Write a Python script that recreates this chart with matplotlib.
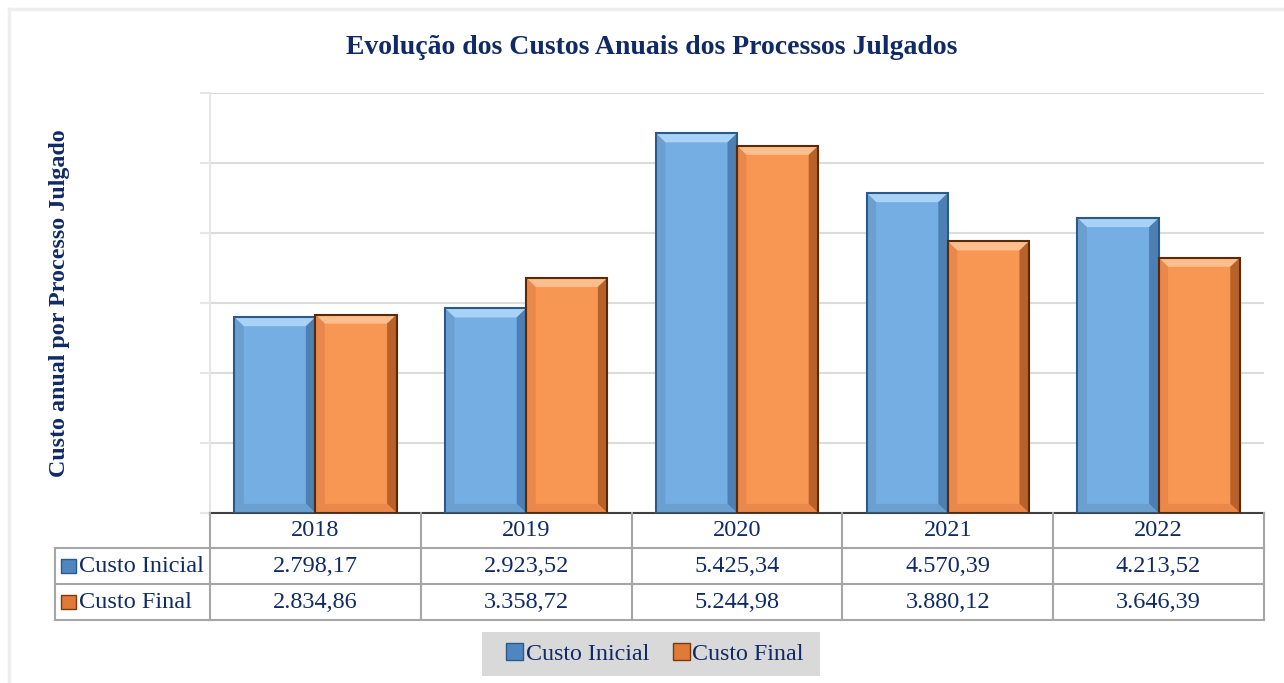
import numpy as np
import matplotlib.pyplot as plt
import matplotlib.transforms as mtrans
from matplotlib.patches import Rectangle, Polygon, Patch

anos = ['2018', '2019', '2020', '2021', '2022']
custo_inicial = [2798.17, 2923.52, 5425.34, 4570.39, 4213.52]
custo_final = [2834.86, 3358.72, 5244.98, 3880.12, 3646.39]
series = ['Custo Inicial', 'Custo Final']

navy = '#0F2A66'
plt.rcParams['font.family'] = ['Liberation Serif', 'DejaVu Serif']

W, H = 1284, 683
fig = plt.figure(figsize=(W / 100, H / 100), dpi=100)
px = lambda x, y: (x / W, 1 - y / H)  # pixel -> coordenada da figura

# moldura clara do gráfico
fig.add_artist(plt.Line2D([9 / W, 9 / W], [0, 1 - 9 / H], color='#EEEEEE', lw=2.5,
                          transform=fig.transFigure))
fig.add_artist(plt.Line2D([9 / W, 1], [1 - 9 / H, 1 - 9 / H], color='#EEEEEE', lw=2.5,
                          transform=fig.transFigure))

x0, x1, ytop, ybase = 210, 1264, 93, 513
ax = fig.add_axes([x0 / W, 1 - ybase / H, (x1 - x0) / W, (ybase - ytop) / H])
ax.set_xlim(-0.5, len(anos) - 0.5)
ax.set_ylim(0, 6000)
ax.set_yticks(np.arange(0, 6001, 1000))
ax.set_yticklabels([])
ax.set_xticks([])
ax.tick_params(axis='y', length=7, color='#E6E6E6', width=1.5)
ax.grid(axis='y', color='#DCDCDC', lw=1.5)
ax.set_axisbelow(True)
for s in ['top', 'right']:
    ax.spines[s].set_visible(False)
ax.spines['left'].set_color('#E6E6E6')
ax.spines['left'].set_linewidth(1.5)
ax.spines['bottom'].set_color('#404040')
ax.spines['bottom'].set_linewidth(1.5)

bw = 0.385
bx, by = 0.045, 130


def bar_3d(xc, h, face, light, mid, dark, edge):
    a, b = xc - bw / 2, xc + bw / 2
    ax.add_patch(Rectangle((a, 0), bw, h, facecolor=face, edgecolor='none', zorder=3))
    ax.add_patch(Polygon([(a, h), (b, h), (b - bx, h - by), (a + bx, h - by)],
                         closed=True, facecolor=light, edgecolor='none', zorder=4))
    ax.add_patch(Polygon([(b, h), (b, 0), (b - bx, by), (b - bx, h - by)],
                         closed=True, facecolor=dark, edgecolor='none', zorder=4))
    ax.add_patch(Polygon([(a, h), (a + bx, h - by), (a + bx, by), (a, 0)],
                         closed=True, facecolor=mid, edgecolor='none', zorder=4))
    ax.add_patch(Polygon([(a, 0), (a + bx, by), (b - bx, by), (b, 0)],
                         closed=True, facecolor=mid, edgecolor='none', zorder=4))
    ax.add_patch(Rectangle((a, 0), bw, h, facecolor='none', edgecolor=edge, lw=1.5, zorder=5))


pos = np.arange(len(anos))
for i in range(len(anos)):
    bar_3d(pos[i] - bw / 2, custo_inicial[i], '#74AEE3', '#A8D3F6', '#6A9FD0', '#4C7FB3', '#2B5A8A')
    bar_3d(pos[i] + bw / 2, custo_final[i], '#F89654', '#FBBE8C', '#E9884A', '#B8622A', '#5A2A08')

# tabela de dados (x em coordenadas de dados, y em pixels da figura)
fmt = lambda v: f'{v:,.2f}'.replace(',', 'X').replace('.', ',').replace('X', '.')
tr = mtrans.blended_transform_factory(ax.transData, fig.transFigure)
grid_c, grid_lw = '#A6A6A6', 1.5
rows_y = [513, 548, 584, 620]
for y in rows_y[1:]:
    fig.add_artist(plt.Line2D([-0.5, len(anos) - 0.5], [1 - y / H] * 2, color=grid_c,
                              lw=grid_lw, transform=tr))
    fig.add_artist(plt.Line2D([55 / W, 210 / W], [1 - y / H] * 2, color=grid_c,
                              lw=grid_lw, transform=fig.transFigure))
for i in range(len(anos) + 1):
    fig.add_artist(plt.Line2D([i - 0.5] * 2, [1 - 513 / H, 1 - 620 / H], color=grid_c,
                              lw=grid_lw, transform=tr))
fig.add_artist(plt.Line2D([55 / W] * 2, [1 - 548 / H, 1 - 620 / H], color=grid_c,
                          lw=grid_lw, transform=fig.transFigure))

linhas = [anos, [fmt(v) for v in custo_inicial], [fmt(v) for v in custo_final]]
for r, vals in enumerate(linhas):
    yc = 1 - (rows_y[r] + rows_y[r + 1]) / 2 / H
    for i, s in enumerate(vals):
        fig.text(pos[i], yc, s, transform=tr, ha='center', va='center',
                 fontsize=17.5, color=navy)

marc = [('#4F86C0', '#2B5A8A'), ('#E07A38', '#7A3A10')]
for k, nome in enumerate(series):
    yc = (rows_y[k + 1] + rows_y[k + 2]) / 2
    fig.add_artist(Rectangle(px(61, yc + 7), 15 / W, 14 / H, facecolor=marc[k][0],
                             edgecolor=marc[k][1], lw=1, transform=fig.transFigure))
    fig.text(*px(79, yc), nome, ha='left', va='center', fontsize=17.5, color=navy)

fig.text(*px(652, 47), 'Evolução dos Custos Anuais dos Processos Julgados',
         ha='center', va='center', fontsize=20, fontweight='bold', color=navy)
fig.text(*px(60, 303), 'Custo anual por Processo Julgado', rotation=90,
         ha='center', va='center', fontsize=17.3, fontweight='bold', color=navy)

# legenda com fundo cinza
fig.add_artist(Rectangle(px(482, 676), 338 / W, 44 / H, facecolor='#D9D9D9',
                         edgecolor='none', transform=fig.transFigure))
handles = [Patch(facecolor=marc[0][0], edgecolor=marc[0][1]),
           Patch(facecolor=marc[1][0], edgecolor=marc[1][1])]
leg = fig.legend(handles, series, loc='center', bbox_to_anchor=px(655, 654),
                 ncol=2, frameon=False, fontsize=17.3, handlelength=0.7, handleheight=0.7,
                 handletextpad=0.1, columnspacing=1.0, borderpad=0.45)
for t in leg.get_texts():
    t.set_color(navy)

fig.savefig('out.png', dpi=100)
